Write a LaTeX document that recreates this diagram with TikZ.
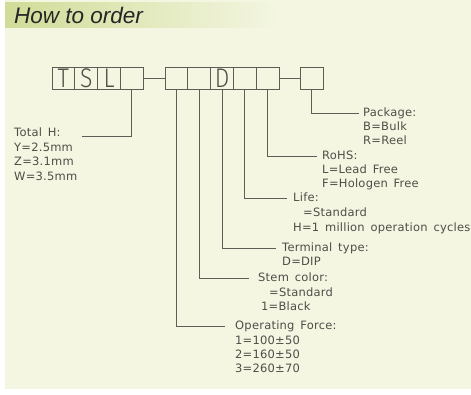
\documentclass[tikz,border=0pt]{standalone}
\usepackage{fontspec}
\setmainfont{DejaVu Sans}[LetterSpace=2,WordSpace=1.5]
\newfontfamily\titlefont{Liberation Sans}
\newfontfamily\boxfont{Fira Sans}[UprightFont=* Light]
\definecolor{bg}{HTML}{F4F6E2}
\definecolor{band}{HTML}{D0DC98}
\definecolor{ln}{HTML}{5E5E56}
\definecolor{tx}{HTML}{4E4E48}
\newcommand{\boxletter}[1]{\scalebox{0.85}[1]{#1}}
\tikzset{
  cell/.style={draw=ln, line width=0.8pt, minimum width=22.8pt, minimum height=22pt, inner sep=0pt, outer sep=0pt, font=\boxfont\fontsize{27}{27}\selectfont, text=tx, text height=19pt, text depth=0pt},
  lbl/.style={anchor=west, inner sep=0pt, text=tx, font=\fontsize{11.5}{13}\selectfont, text height=8pt, text depth=2pt},
  lead/.style={draw=ln, line width=0.8pt}
}
\begin{document}
\begin{tikzpicture}[x=1pt,y=-1pt]
\useasboundingbox (0,0) rectangle (471,394);
\fill[white] (0,0) rectangle (471,394);
\fill[bg] (5,0) rectangle (471,389);
\shade[left color=band,right color=bg] (5,2) rectangle (280,27);
\node[anchor=west, inner sep=0pt, text=black!85, font=\titlefont\itshape\fontsize{22.5}{22.5}\selectfont] (title) at (14,15) {How to order};

% boxes
\node[cell] (t1) at (63.4,78) {\boxletter{T}};
\node[cell] (t2) at (86.2,78) {\boxletter{S}};
\node[cell] (t3) at (109,78) {\boxletter{L}};
\node[cell] (t4) at (131.8,78) {};
\node[cell] (g1) at (176.4,78) {};
\node[cell] (g2) at (199.2,78) {};
\node[cell] (g3) at (222,78) {\boxletter{D}};
\node[cell] (g4) at (244.8,78) {};
\node[cell] (g5) at (267.6,78) {};
\node[cell] (pk) at (311.6,78) {};
\draw[lead] (t4.east) -- (g1.west);
\draw[lead] (g5.east) -- (pk.west);

% labels
\node[lbl] (th) at (14,133) {Total H:};
\node[lbl] (th1) at (14,148) {Y=2.5mm};
\node[lbl] (th2) at (14,162) {Z=3.1mm};
\node[lbl] (th3) at (14,177) {W=3.5mm};
\coordinate (thend) at (82,136);

\node[lbl] (pa) at (363,113) {Package:};
\node[lbl] (pa1) at (363,127) {B=Bulk};
\node[lbl] (pa2) at (363,141) {R=Reel};

\node[lbl] (ro) at (322,156) {RoHS:};
\node[lbl] (ro1) at (322,170) {L=Lead Free};
\node[lbl] (ro2) at (322,184) {F=Hologen Free};

\node[lbl] (li) at (293,198) {Life:};
\node[lbl] (li1) at (303,213) {=Standard};
\node[lbl] (li2) at (293,228) {H=1 million operation cycles};

\node[lbl] (te) at (282,248) {Terminal type:};
\node[lbl] (te1) at (282,262) {D=DIP};

\node[lbl] (st) at (258,278) {Stem color:};
\node[lbl] (st1) at (269,293) {=Standard};
\node[lbl] (st2) at (261,307) {1=Black};

\node[lbl] (of) at (235,326) {Operating Force:};
\node[lbl] (of1) at (235,341) {1=100±50};
\node[lbl] (of2) at (235,355) {2=160±50};
\node[lbl] (of3) at (235,369) {3=260±70};

% leaders
\draw[lead] (t4.south) |- (thend);
\draw[lead] (pk.south) |- ([xshift=-4pt]pa.west);
\draw[lead] (g5.south) |- ([xshift=-5pt]ro.west);
\draw[lead] (g4.south) |- ([xshift=-6pt]li.west);
\draw[lead] (g3.south) |- ([xshift=-6pt]te.west);
\draw[lead] (g2.south) |- ([xshift=-9pt]st.west);
\draw[lead] (g1.south) |- ([xshift=-10pt]of.west);
\end{tikzpicture}
\end{document}
